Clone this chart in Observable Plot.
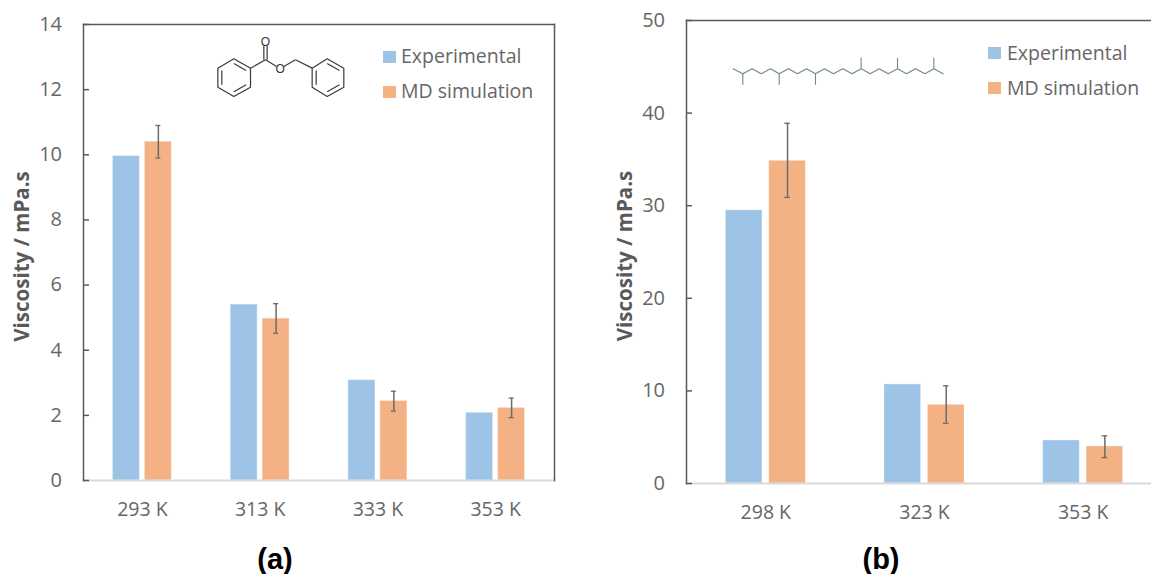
<!DOCTYPE html>
<html><head><meta charset="utf-8">
<script src="https://cdn.jsdelivr.net/npm/d3@7"></script>
<script src="https://cdn.jsdelivr.net/npm/@observablehq/plot@0.6"></script>
<style>
html,body{margin:0;padding:0;background:#fff;width:1151px;height:574px;overflow:hidden;position:relative}
.abs{position:absolute}
.leg{position:absolute;font:19.5px "Open Sans",sans-serif;color:#666;white-space:nowrap;line-height:20px}
.sw{position:absolute;width:13px;height:12px}
.cap{position:absolute;font:bold 29px "Liberation Sans",sans-serif;color:#000;line-height:32px;width:80px;text-align:center}
</style></head><body>
<script>
const seriesNames = ["Experimental", "MD simulation"];
const seriesColors = ["#9DC3E6", "#F4B183"];
const yTitle = "Viscosity / mPa.s";

// Panel (a): benzyl benzoate
const tempsA = ["293 K", "313 K", "333 K", "353 K"];
const expA = [9.96, 5.4, 3.08, 2.08];
const simA = [10.4, 4.97, 2.44, 2.23];
const errLowA = [9.9, 4.52, 2.13, 1.93];
const errHighA = [10.9, 5.43, 2.74, 2.53];

// Panel (b): squalane
const tempsB = ["298 K", "323 K", "353 K"];
const expB = [29.5, 10.7, 4.65];
const simB = [34.85, 8.5, 4.0];
const errLowB = [30.9, 6.5, 2.8];
const errHighB = [38.9, 10.55, 5.15];

// Molecule skeletons, in drawing units
const ringL = [[130,115],[180,143],[180,200],[130,228],[82,200],[82,143],[130,115]];
const ringLInner = [[[130,129],[167,150]],[[167,193],[130,214]],[[94,193],[94,150]]];
const ringR = [[410,115],[460,143],[460,200],[410,228],[365,200],[365,143],[410,115]];
const ringRInner = [[[410,129],[447,150]],[[447,193],[410,214]],[[377,193],[377,150]]];
const esterChain = [[[180,143],[225,118]],[[225,118],[258,138]],[[280,138],[315,118]],[[315,118],[365,143]],[[220,118],[220,76]],[[230,118],[230,76]]];
const chain = [[68,175],[97,190],[125,175],[152,190],[180,175],[206,190],[234,175],[261,190],[288,175],[315,190],[342,175],[369,190],[397,175],[425,190],[452,175],[479,190],[506,175],[533,190],[561,175],[588,190],[615,175],[643,190],[670,175],[698,190]];
const branches = [[[97,190],[97,223]],[[206,190],[206,223]],[[315,190],[315,223]],[[452,175],[452,142]],[[561,175],[561,142]],[[670,175],[670,142]]];

function panel({temps, exp, sim, lo, hi, yMax, yStep, width, height, ml, mr, mt, mb, rightFrame, barPadIn, barPadOut, capInset}) {
  const bars = temps.flatMap((t,i)=>[{t,s:seriesNames[0],v:exp[i]},{t,s:seriesNames[1],v:sim[i]}]);
  const errs = temps.map((t,i)=>({t,s:seriesNames[1],lo:lo[i],hi:hi[i]}));
  const frameCol = "#595959";
  const marks = [
    Plot.barY(bars,{fx:"t",x:"s",y:"v",fill:"s",stroke:"#fff",strokeOpacity:0.35,strokeWidth:1}),
    Plot.ruleX(errs,{fx:"t",x:"s",y1:"lo",y2:"hi",stroke:"#6b6b6b",strokeWidth:1.5}),
    Plot.tickY(errs,{fx:"t",x:"s",y:"lo",stroke:"#6b6b6b",strokeWidth:1.3,insetLeft:capInset,insetRight:capInset}),
    Plot.tickY(errs,{fx:"t",x:"s",y:"hi",stroke:"#6b6b6b",strokeWidth:1.3,insetLeft:capInset,insetRight:capInset}),
    Plot.frame({anchor:"bottom",facet:"super",stroke:"#D9D9D9",strokeWidth:2}),
    Plot.frame({anchor:"left",facet:"super",stroke:frameCol,strokeWidth:1.5}),
    Plot.frame({anchor:"top",facet:"super",stroke:frameCol,strokeWidth:1.5}),
    Plot.axisY({ticks:d3.range(0,yMax+1,yStep),tickSize:-6,tickPadding:27.5,stroke:frameCol,strokeWidth:1.5,fontSize:20,fill:"#666",label:null}),
    Plot.axisFx({anchor:"bottom",tickSize:0,tickPadding:21.5,fontSize:19.5,fill:"#666",label:null}),
    Plot.text([yTitle],{frameAnchor:"left",textAnchor:"middle",rotate:-90,dx:-61,dy:4,facet:"super",fontSize:20.5,fontWeight:700,fill:"#595959"})
  ];
  if (rightFrame) marks.push(Plot.frame({anchor:"right",facet:"super",stroke:frameCol,strokeWidth:1.5}));
  return Plot.plot({
    width,height,marginLeft:ml,marginRight:mr,marginTop:mt,marginBottom:mb,
    style:{fontFamily:"'Open Sans',sans-serif",background:"transparent",overflow:"visible"},
    fx:{domain:temps,padding:0,axis:null,round:false},
    x:{domain:seriesNames,paddingInner:barPadIn,paddingOuter:barPadOut,axis:null,round:false},
    y:{domain:[0,yMax]},
    color:{domain:seriesNames,range:seriesColors},
    marks
  });
}

function place(el,x,y){el.classList.add("abs");el.style.position="absolute";el.style.left=x+"px";el.style.top=y+"px";document.body.appendChild(el);}

place(panel({temps:tempsA,exp:expA,sim:simA,lo:errLowA,hi:errHighA,yMax:14,yStep:2,width:570,height:530,ml:83,mr:16,mt:24,mb:50,rightFrame:true,barPadIn:0.156,barPadOut:0.92,capInset:11}),0,0);
place(panel({temps:tempsB,exp:expB,sim:simB,lo:errLowB,hi:errHighB,yMax:50,yStep:10,width:562,height:530,ml:86,mr:0,mt:20,mb:47,rightFrame:false,barPadIn:0.157,barPadOut:0.906,capInset:15.5}),600,0);

// Molecule sketches
const seg = a => ({x1:a[0][0],y1:a[0][1],x2:a[1][0],y2:a[1][1]});
function mol({w,h,links,paths,labels,stroke,sw}) {
  return Plot.plot({
    width:w/3,height:h/3,margin:0,axis:null,
    style:{background:"transparent",overflow:"visible"},
    x:{domain:[0,w],range:[0,w/3],axis:null},
    y:{domain:[0,h],range:[0,h/3],axis:null},
    marks:[
      ...paths.map(p=>Plot.line(p,{x:"0",y:"1",stroke,strokeWidth:sw,curve:"linear",strokeLinejoin:"miter"})),
      Plot.link(links.map(seg),{x1:"x1",y1:"y1",x2:"x2",y2:"y2",stroke,strokeWidth:sw}),
      Plot.text(labels,{x:"x",y:"y",text:"t",fill:"#333",fontSize:12,fontFamily:"'Liberation Sans',sans-serif"})
    ]
  });
}
place(mol({w:520,h:260,stroke:"#3a3a3a",sw:1.2,
  paths:[ringL,ringR],
  links:[...ringLInner,...ringRInner,...esterChain],
  labels:[{x:225,y:64,t:"O"},{x:269,y:147,t:"O"}]}),190,20);
place(mol({w:720,h:240,stroke:"#6f8888",sw:1.1,
  paths:[chain],links:branches,labels:[]}),710,10);

// Legends
function legend(x,ys,tx,tys){
  seriesNames.forEach((n,i)=>{
    const s=document.createElement("div");s.className="sw";s.style.left=x+"px";s.style.top=ys[i]+"px";s.style.background=seriesColors[i];document.body.appendChild(s);
    const t=document.createElement("div");t.className="leg";t.textContent=n;t.style.left=tx+"px";t.style.top=tys[i]+"px";document.body.appendChild(t);
  });
}
legend(382.5,[50.5,85.5],401,[46,81]);
legend(988,[47,82],1007,[43,78]);

// Panel captions
[["(a)",235],["(b)",841]].forEach(([t,x])=>{
  const c=document.createElement("div");c.className="cap";c.textContent=t;c.style.left=x+"px";c.style.top="543px";document.body.appendChild(c);
});
</script>
</body></html>
